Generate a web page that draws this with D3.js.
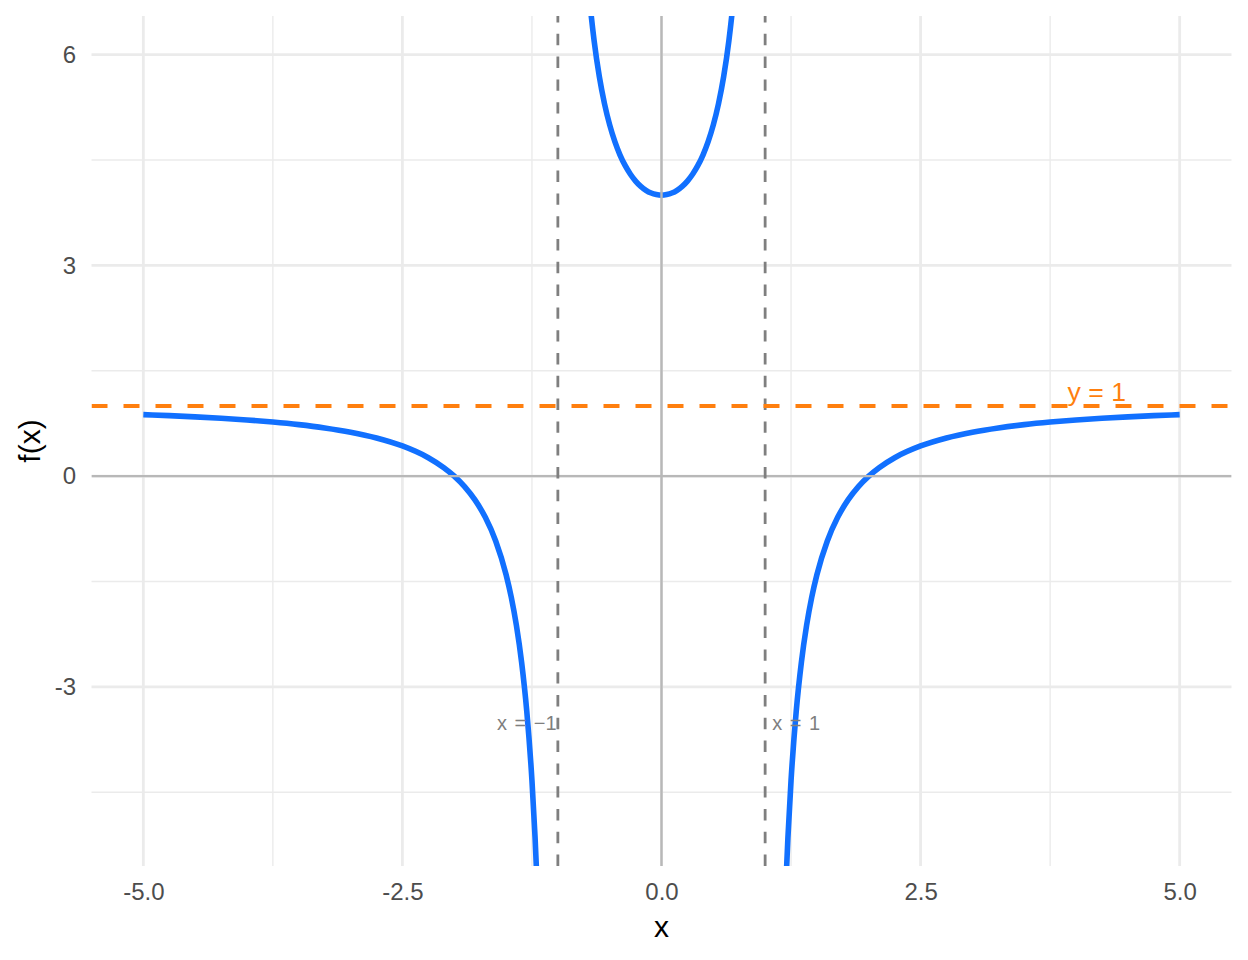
<!DOCTYPE html>
<html>
<head>
<meta charset="utf-8">
<script src="https://cdn.jsdelivr.net/npm/d3@7"></script>
<style>
  body { margin: 0; background: #fff; }
  svg { display: block; font-family: "Liberation Sans", Arial, sans-serif; }
</style>
</head>
<body>
<div id="chart"></div>
<script>
// values, f(x) on each branch
var leftX  = [-5, -4.75, -4.5, -4.25, -4, -3.75, -3.5, -3.25, -3, -2.75, -2.5, -2.25, -2.1, -2, -1.9, -1.8, -1.7, -1.6, -1.5, -1.45, -1.4, -1.35, -1.3, -1.25, -1.22, -1.2, -1.15];
var leftY  = [0.875, 0.861, 0.844, 0.824, 0.8, 0.770, 0.733, 0.686, 0.625, 0.543, 0.429, 0.262, 0.120, 0, -0.149, -0.339, -0.587, -0.923, -1.4, -1.721, -2.125, -2.647, -3.348, -4.333, -5.143, -5.818, -8.302];
var midX   = [-0.72, -0.7, -0.65, -0.6, -0.55, -0.5, -0.45, -0.4, -0.35, -0.3, -0.25, -0.2, -0.15, -0.1, -0.05, 0, 0.05, 0.1, 0.15, 0.2, 0.25, 0.3, 0.35, 0.4, 0.45, 0.5, 0.55, 0.6, 0.65, 0.7, 0.72];
var midY   = [7.229, 6.882, 6.195, 5.688, 5.301, 5, 4.762, 4.571, 4.419, 4.297, 4.2, 4.125, 4.069, 4.030, 4.008, 4, 4.008, 4.030, 4.069, 4.125, 4.2, 4.297, 4.419, 4.571, 4.762, 5, 5.301, 5.688, 6.195, 6.882, 7.229];
var rightX = [1.15, 1.2, 1.22, 1.25, 1.3, 1.35, 1.4, 1.45, 1.5, 1.6, 1.7, 1.8, 1.9, 2, 2.1, 2.25, 2.5, 2.75, 3, 3.25, 3.5, 3.75, 4, 4.25, 4.5, 4.75, 5];
var rightY = [-8.302, -5.818, -5.143, -4.333, -3.348, -2.647, -2.125, -1.721, -1.4, -0.923, -0.587, -0.339, -0.149, 0, 0.120, 0.262, 0.429, 0.543, 0.625, 0.686, 0.733, 0.770, 0.8, 0.824, 0.844, 0.861, 0.875];

var vAsymptotes = [-1, 1];
var hAsymptotes = [1];

var xTicks = [-5, -2.5, 0, 2.5, 5];
var xTickLabels = ['-5.0', '-2.5', '0.0', '2.5', '5.0'];
var xMinor = [-3.75, -1.25, 1.25, 3.75];
var yTicks = [-3, 0, 3, 6];
var yTickLabels = ['-3', '0', '3', '6'];
var yMinor = [-4.5, -1.5, 1.5, 4.5];

var vLabels = ['x = \u22121', 'x = 1'];
var vLabelX = [-1.3, 1.3];
var vLabelY = [-3.5, -3.5];
var hLabels = ['y = 1'];
var hLabelX = [4.2];
var hLabelY = [1.2];

var W = 1248, H = 960;
var panel = {left: 91.5, right: 1231.5, top: 16, bottom: 866};

var svg = d3.select('#chart').append('svg')
    .attr('width', W)
    .attr('height', H);

var xScale = d3.scaleLinear().domain([-5.5, 5.5]).range([panel.left, panel.right]),
    yScale = d3.scaleLinear().domain([-5.55, 6.55]).range([panel.bottom, panel.top]);

svg.append('defs').append('clipPath')
    .attr('id', 'panel-clip')
  .append('rect')
    .attr('x', panel.left)
    .attr('y', panel.top)
    .attr('width', panel.right - panel.left)
    .attr('height', panel.bottom - panel.top);

// grid, minor first
var grid = svg.append('g');

grid.selectAll('.vminor').data(xMinor).enter().append('line')
    .attr('x1', xScale).attr('x2', xScale)
    .attr('y1', panel.top).attr('y2', panel.bottom)
    .style('stroke', '#ebebeb').style('stroke-width', 1.4);

grid.selectAll('.hminor').data(yMinor).enter().append('line')
    .attr('y1', yScale).attr('y2', yScale)
    .attr('x1', panel.left).attr('x2', panel.right)
    .style('stroke', '#ebebeb').style('stroke-width', 1.4);

grid.selectAll('.vmajor').data(xTicks).enter().append('line')
    .attr('x1', xScale).attr('x2', xScale)
    .attr('y1', panel.top).attr('y2', panel.bottom)
    .style('stroke', '#ebebeb').style('stroke-width', 2.8);

grid.selectAll('.hmajor').data(yTicks).enter().append('line')
    .attr('y1', yScale).attr('y2', yScale)
    .attr('x1', panel.left).attr('x2', panel.right)
    .style('stroke', '#ebebeb').style('stroke-width', 2.8);

var plot = svg.append('g').attr('clip-path', 'url(#panel-clip)');

// the curve, one path per branch
var line = d3.line()
    .x(function(d) { return xScale(d[0]); })
    .y(function(d) { return yScale(d[1]); })
    .curve(d3.curveMonotoneX);

var branches = [d3.zip(leftX, leftY), d3.zip(midX, midY), d3.zip(rightX, rightY)];

plot.selectAll('.branch').data(branches).enter().append('path')
    .attr('d', line)
    .style('fill', 'none')
    .style('stroke', '#1170ff')
    .style('stroke-width', 5.6)
    .style('stroke-linejoin', 'round');

// zero lines
plot.append('line')
    .attr('x1', panel.left).attr('x2', panel.right)
    .attr('y1', yScale(0)).attr('y2', yScale(0))
    .style('stroke', '#b8b8b8').style('stroke-width', 2.4);

plot.append('line')
    .attr('x1', xScale(0)).attr('x2', xScale(0))
    .attr('y1', panel.top).attr('y2', panel.bottom)
    .style('stroke', '#b8b8b8').style('stroke-width', 2.4);

// asymptotes
plot.selectAll('.vasym').data(vAsymptotes).enter().append('line')
    .attr('x1', xScale).attr('x2', xScale)
    .attr('y1', panel.bottom).attr('y2', panel.top)
    .style('stroke', '#7f7f7f')
    .style('stroke-width', 2.8)
    .style('stroke-dasharray', '11.4,11.4');

plot.selectAll('.hasym').data(hAsymptotes).enter().append('line')
    .attr('y1', yScale).attr('y2', yScale)
    .attr('x1', panel.left).attr('x2', panel.right)
    .style('stroke', '#ff7f0e')
    .style('stroke-width', 4)
    .style('stroke-dasharray', '16,16');

// labels
svg.selectAll('.vlabel').data(vLabels).enter().append('text')
    .attr('x', function(d, i) { return xScale(vLabelX[i]); })
    .attr('y', function(d, i) { return yScale(vLabelY[i]); })
    .attr('dy', '0.42em')
    .style('text-anchor', 'middle')
    .style('font-size', '20px')
    .style('word-spacing', '2px')
    .style('fill', '#7f7f7f')
    .text(function(d) { return d; });

svg.selectAll('.hlabel').data(hLabels).enter().append('text')
    .attr('x', function(d, i) { return xScale(hLabelX[i]); })
    .attr('y', function(d, i) { return yScale(hLabelY[i]); })
    .attr('dy', '0.35em')
    .style('text-anchor', 'middle')
    .style('font-size', '26.6px')
    .style('fill', '#ff7f0e')
    .text(function(d) { return d; });

// axes, no lines or ticks
var xAxis = svg.append('g')
    .attr('transform', 'translate(0,' + panel.bottom + ')')
    .call(d3.axisBottom(xScale)
      .tickValues(xTicks)
      .tickSize(0)
      .tickPadding(17)
      .tickFormat(function(d, i) { return xTickLabels[i]; }));

var yAxis = svg.append('g')
    .attr('transform', 'translate(' + panel.left + ',0)')
    .call(d3.axisLeft(yScale)
      .tickValues(yTicks)
      .tickSize(0)
      .tickPadding(15.5)
      .tickFormat(function(d, i) { return yTickLabels[i]; }));

[xAxis, yAxis].forEach(function(a) {
  a.select('.domain').remove();
  a.selectAll('text')
      .style('font-family', '"Liberation Sans", Arial, sans-serif')
      .style('font-size', '24px')
      .style('fill', '#4d4d4d');
});

svg.append('text')
    .attr('x', (panel.left + panel.right) / 2)
    .attr('y', 937)
    .style('text-anchor', 'middle')
    .style('font-size', '30px')
    .style('fill', '#000')
    .text('x');

svg.append('text')
    .attr('transform', 'translate(40,' + (panel.top + panel.bottom) / 2 + ') rotate(-90)')
    .style('text-anchor', 'middle')
    .style('font-size', '30px')
    .style('fill', '#000')
    .text('f(x)');
</script>
</body>
</html>
